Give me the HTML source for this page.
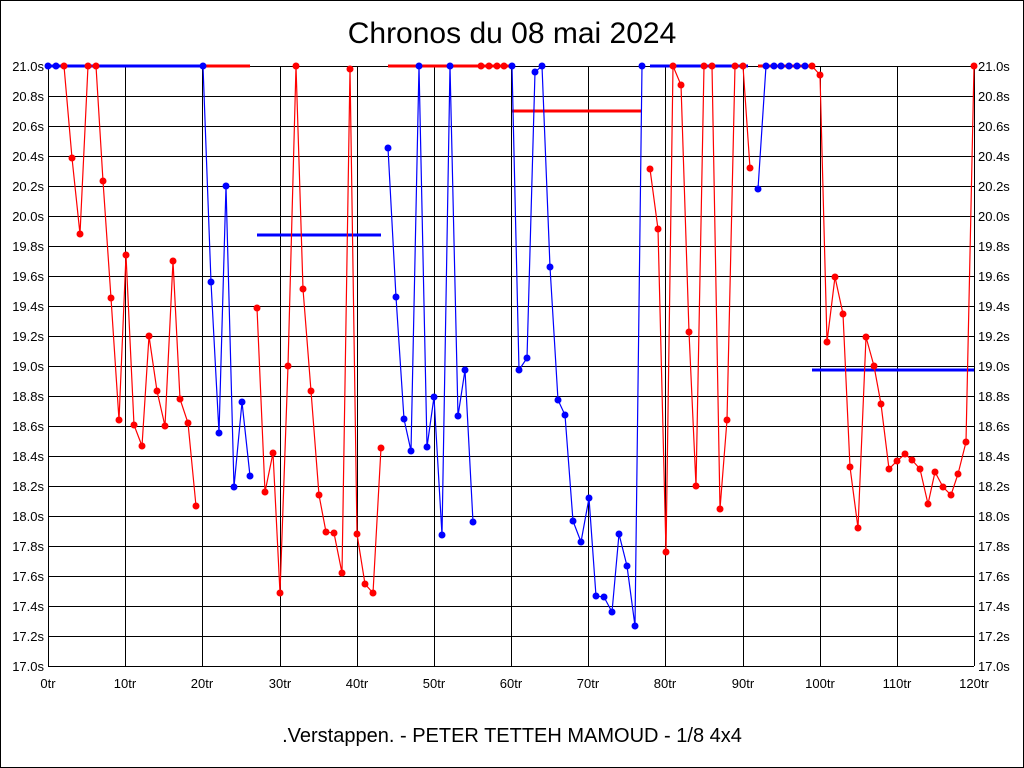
<!DOCTYPE html>
<html><head><meta charset="utf-8"><style>body{margin:0;background:#fff}svg{display:block}</style></head><body>
<svg width="1024" height="768" viewBox="0 0 1024 768" xmlns="http://www.w3.org/2000/svg" font-family="Liberation Sans, sans-serif">
<rect x="0.5" y="0.5" width="1023" height="767" fill="#fff" stroke="#000"/>
<text x="512" y="43" font-size="30" text-anchor="middle">Chronos du 08 mai 2024</text>
<text x="512" y="742" font-size="20" text-anchor="middle">.Verstappen. - PETER TETTEH MAMOUD - 1/8 4x4</text>
<g id="grid" stroke="#000" stroke-width="1" shape-rendering="crispEdges"></g>
<g id="labels" font-size="13"></g>
<g id="data"></g>
<script>
var g=document.getElementById('grid'),L=document.getElementById('labels'),D=document.getElementById('data');
var ns='http://www.w3.org/2000/svg';
function el(p,t,a,txt){var e=document.createElementNS(ns,t);for(var k in a)e.setAttribute(k,a[k]);if(txt!=null)e.textContent=txt;p.appendChild(e);return e;}
for(var i=0;i<=20;i++){var y=66+i*30;el(g,'line',{x1:48,x2:974,y1:y+.5,y2:y+.5});
var v=(21-i*0.2).toFixed(1)+'s';el(L,'text',{x:44,y:y+5,'text-anchor':'end'},v);el(L,'text',{x:978,y:y+5},v);}
for(var j=0;j<=12;j++){var x=Math.round(48+j*926/12);el(g,'line',{x1:x+.5,x2:x+.5,y1:66,y2:666});
el(L,'text',{x:x,y:688,'text-anchor':'middle'},(j*10)+'tr');}
function seg(c,x1,x2,y){el(D,'line',{x1:x1,x2:x2,y1:y,y2:y,stroke:c,'stroke-width':3});}
function pl(c,pts){el(D,'polyline',{points:pts.map(function(p){return p.join(',')}).join(' '),fill:'none',stroke:c,'stroke-width':1.2});
pts.forEach(function(p){el(D,'circle',{cx:p[0],cy:p[1],r:3.5,fill:c});});}
var B='#0000ff',R='#ff0000';
seg(B,48,203,66);seg(R,203,250,66);seg(B,257,381,235);seg(R,388,445,66);seg(R,445,512,66);
seg(R,512,642,111);seg(B,650,748,66);seg(R,758,812,66);seg(B,812,974,370);
pl(B,[[48,66],[56,66]]);
pl(R,[[64,66],[72,158],[80,234],[88,66],[96,66],[103,181],[111,298],[119,420],[126,255],[134,425],[142,446],[149,336],[157,391],[165,426],[173,261],[180,399],[188,423],[196,506]]);
pl(B,[[203,66],[211,282],[219,433],[226,186],[234,487],[242,402],[250,476]]);
pl(R,[[257,308],[265,492],[273,453],[280,593],[288,366],[296,66],[303,289],[311,391],[319,495],[326,532],[334,533],[342,573],[350,69],[357,534],[365,584],[373,593],[381,448]]);
pl(B,[[388,148],[396,297],[404,419],[411,451],[419,66],[427,447],[434,397],[442,535],[450,66],[458,416],[465,370],[473,522]]);
pl(R,[[481,66],[489,66],[497,66],[504,66]]);
pl(B,[[512,66],[519,370],[527,358],[535,72],[542,66],[550,267],[558,400],[565,415],[573,521],[581,542],[589,498],[596,596],[604,597],[612,612],[619,534],[627,566],[635,626],[642,66]]);
pl(R,[[650,169],[658,229],[666,552],[673,66],[681,85],[689,332],[696,486],[704,66],[712,66],[720,509],[727,420],[735,66],[743,66],[750,168]]);
pl(B,[[758,189],[766,66],[774,66],[781,66],[789,66],[797,66],[805,66]]);
pl(R,[[812,66],[820,75],[827,342],[835,277],[843,314],[850,467],[858,528],[866,337],[874,366],[881,404],[889,469],[897,461],[905,454],[912,460],[920,469],[928,504],[935,472],[943,487],[951,495],[958,474],[966,442],[974,66]]);
</script>
</svg>
</body></html>
